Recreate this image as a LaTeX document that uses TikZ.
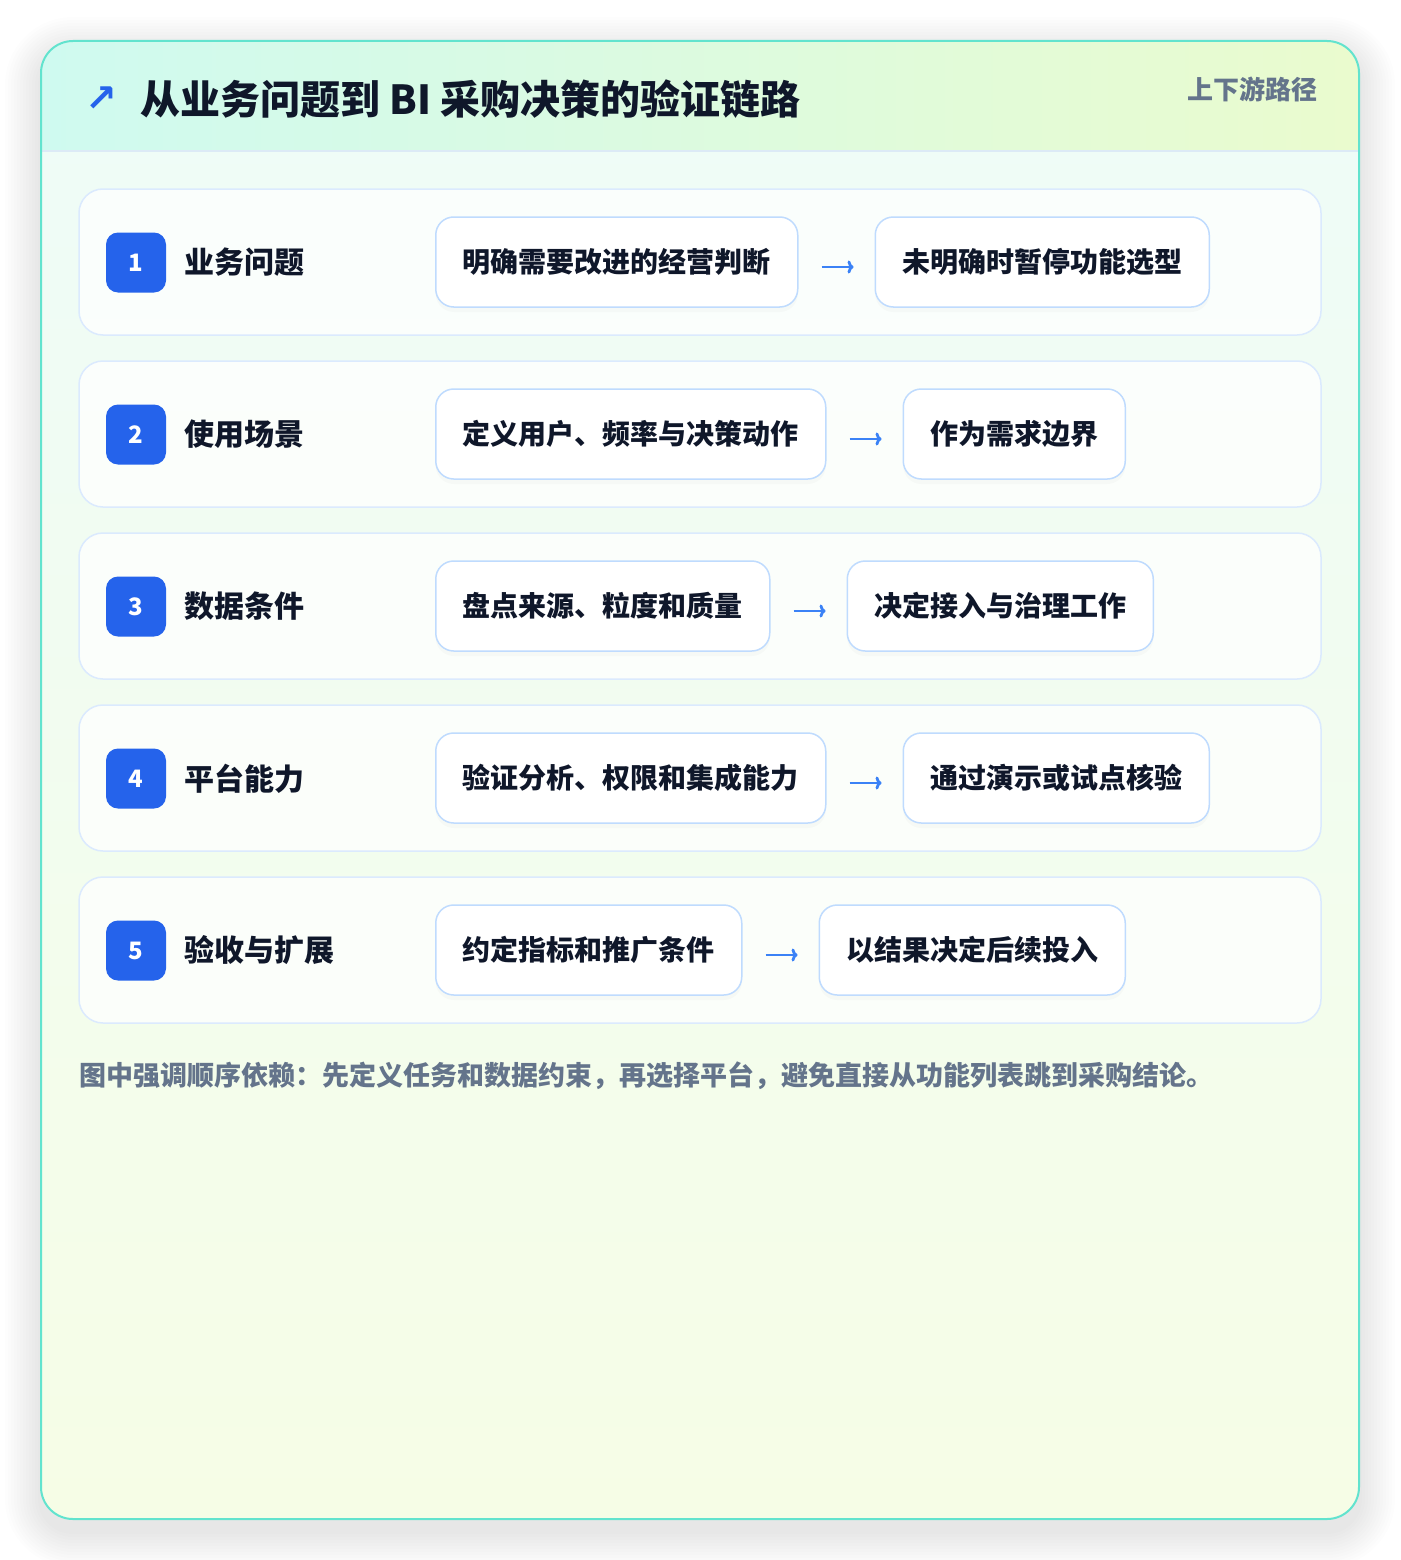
\documentclass[tikz,border=0pt]{standalone}
\usepackage{fontspec}
\setmainfont{Noto Sans CJK SC}
\newfontfamily\symfont{DejaVu Sans}
\usetikzlibrary{positioning,shadows,arrows.meta}

\definecolor{cardline}{HTML}{62E3CE}
\definecolor{headl}{HTML}{CFFAF0}
\definecolor{headr}{HTML}{EAFBCE}
\definecolor{bodytop}{HTML}{EEFCF8}
\definecolor{bodybot}{HTML}{F6FDE6}
\definecolor{sepline}{HTML}{DCEAF6}
\definecolor{rowline}{HTML}{DBEAFE}
\definecolor{boxline}{HTML}{BFDBFE}
\definecolor{badgec}{HTML}{2563EB}
\definecolor{flowc}{HTML}{3B82F6}
\definecolor{ink}{HTML}{0F172A}
\definecolor{muted}{HTML}{64748B}

\tikzset{
  titletext/.style={inner sep=0pt, text=ink, font=\fontsize{40pt}{46pt}\selectfont\bfseries},
  icon/.style={inner sep=0pt, text=badgec, font=\symfont\bfseries\fontsize{38pt}{40pt}\selectfont},
  tag/.style={inner sep=0pt, text=muted, font=\fontsize{26pt}{30pt}\selectfont\bfseries},
  rowcard/.style={draw=rowline, line width=1.5pt, fill=white, fill opacity=0.75,
    rounded corners=24pt, minimum width=1242pt, minimum height=146pt},
  badge/.style={fill=badgec, rounded corners=12pt, minimum size=60pt, inner sep=0pt,
    text=white, font=\fontsize{24pt}{28pt}\selectfont\bfseries},
  rowlabel/.style={inner sep=0pt, text=ink, font=\fontsize{30pt}{36pt}\selectfont\bfseries},
  stepbox/.style={draw=boxline, line width=1.5pt, fill=white, rounded corners=18pt,
    minimum height=90pt, inner xsep=27pt, inner ysep=0pt, text=ink,
    font=\fontsize{28pt}{34pt}\selectfont\bfseries,
    drop shadow={opacity=0.035, shadow xshift=0pt, shadow yshift=-5pt}},
  flow/.style={draw=flowc, line width=2.8pt, -{To[length=6pt,width=13pt]},
    shorten <=23pt, shorten >=21pt},
  note/.style={inner sep=0pt, text=muted, font=\fontsize{27pt}{32pt}\selectfont\bfseries}
}

\begin{document}
\begin{tikzpicture}[x=1pt,y=-1pt]
\useasboundingbox (0,0) rectangle (1400,1560);
\fill[white] (0,0) rectangle (1400,1560);

% soft shadow round the card
\foreach \d in {3,6,...,36}
  \fill[black, opacity=0.008, rounded corners={32+\d}] (41-\d,41-\d+12) rectangle (1359+\d,1519+\d+12);

% card with header band
\begin{scope}
  \clip[rounded corners=32pt] (41,41) rectangle (1359,1519);
  \fill[top color=bodytop, bottom color=bodybot] (41,41) rectangle (1359,1519);
  \fill[left color=headl, right color=headr] (41,41) rectangle (1359,151);
  \draw[sepline, line width=2pt] (41,151) -- (1359,151);
\end{scope}
\draw[cardline, line width=2pt, rounded corners=32pt] (41,41) rectangle (1359,1519);

\node[titletext, anchor=west] (title) at (140,99) {从业务问题到 BI 采购决策的验证链路};
\node[icon, left=22pt of title] (arrowicon) {↗};
\node[tag, anchor=east] (tag) at (1318,89) {上下游路径};

% row 1
\node[rowcard] (r1) at (700,262) {};
\node[badge] (n1) at (136,262.5) {1};
\node[rowlabel, right=18pt of n1] (l1) {业务问题};
\node[stepbox, anchor=west] (a1) at (435,262) {明确需要改进的经营判断};
\node[stepbox, right=76pt of a1] (b1) {未明确时暂停功能选型};
\draw[flow] ([yshift=-5pt]a1.east) -- ([yshift=-5pt]b1.west);

% row 2
\node[rowcard] (r2) at (700,434) {};
\node[badge] (n2) at (136,434.5) {2};
\node[rowlabel, right=18pt of n2] (l2) {使用场景};
\node[stepbox, anchor=west] (a2) at (435,434) {定义用户、频率与决策动作};
\node[stepbox, right=76pt of a2] (b2) {作为需求边界};
\draw[flow] ([yshift=-5pt]a2.east) -- ([yshift=-5pt]b2.west);

% row 3
\node[rowcard] (r3) at (700,606) {};
\node[badge] (n3) at (136,606.5) {3};
\node[rowlabel, right=18pt of n3] (l3) {数据条件};
\node[stepbox, anchor=west] (a3) at (435,606) {盘点来源、粒度和质量};
\node[stepbox, right=76pt of a3] (b3) {决定接入与治理工作};
\draw[flow] ([yshift=-5pt]a3.east) -- ([yshift=-5pt]b3.west);

% row 4
\node[rowcard] (r4) at (700,778) {};
\node[badge] (n4) at (136,778.5) {4};
\node[rowlabel, right=18pt of n4] (l4) {平台能力};
\node[stepbox, anchor=west] (a4) at (435,778) {验证分析、权限和集成能力};
\node[stepbox, right=76pt of a4] (b4) {通过演示或试点核验};
\draw[flow] ([yshift=-5pt]a4.east) -- ([yshift=-5pt]b4.west);

% row 5
\node[rowcard] (r5) at (700,950) {};
\node[badge] (n5) at (136,950.5) {5};
\node[rowlabel, right=18pt of n5] (l5) {验收与扩展};
\node[stepbox, anchor=west] (a5) at (435,950) {约定指标和推广条件};
\node[stepbox, right=76pt of a5] (b5) {以结果决定后续投入};
\draw[flow] ([yshift=-5pt]a5.east) -- ([yshift=-5pt]b5.west);

\node[note, anchor=west] (note) at (79,1076) {图中强调顺序依赖：先定义任务和数据约束，再选择平台，避免直接从功能列表跳到采购结论。};
\end{tikzpicture}
\end{document}
